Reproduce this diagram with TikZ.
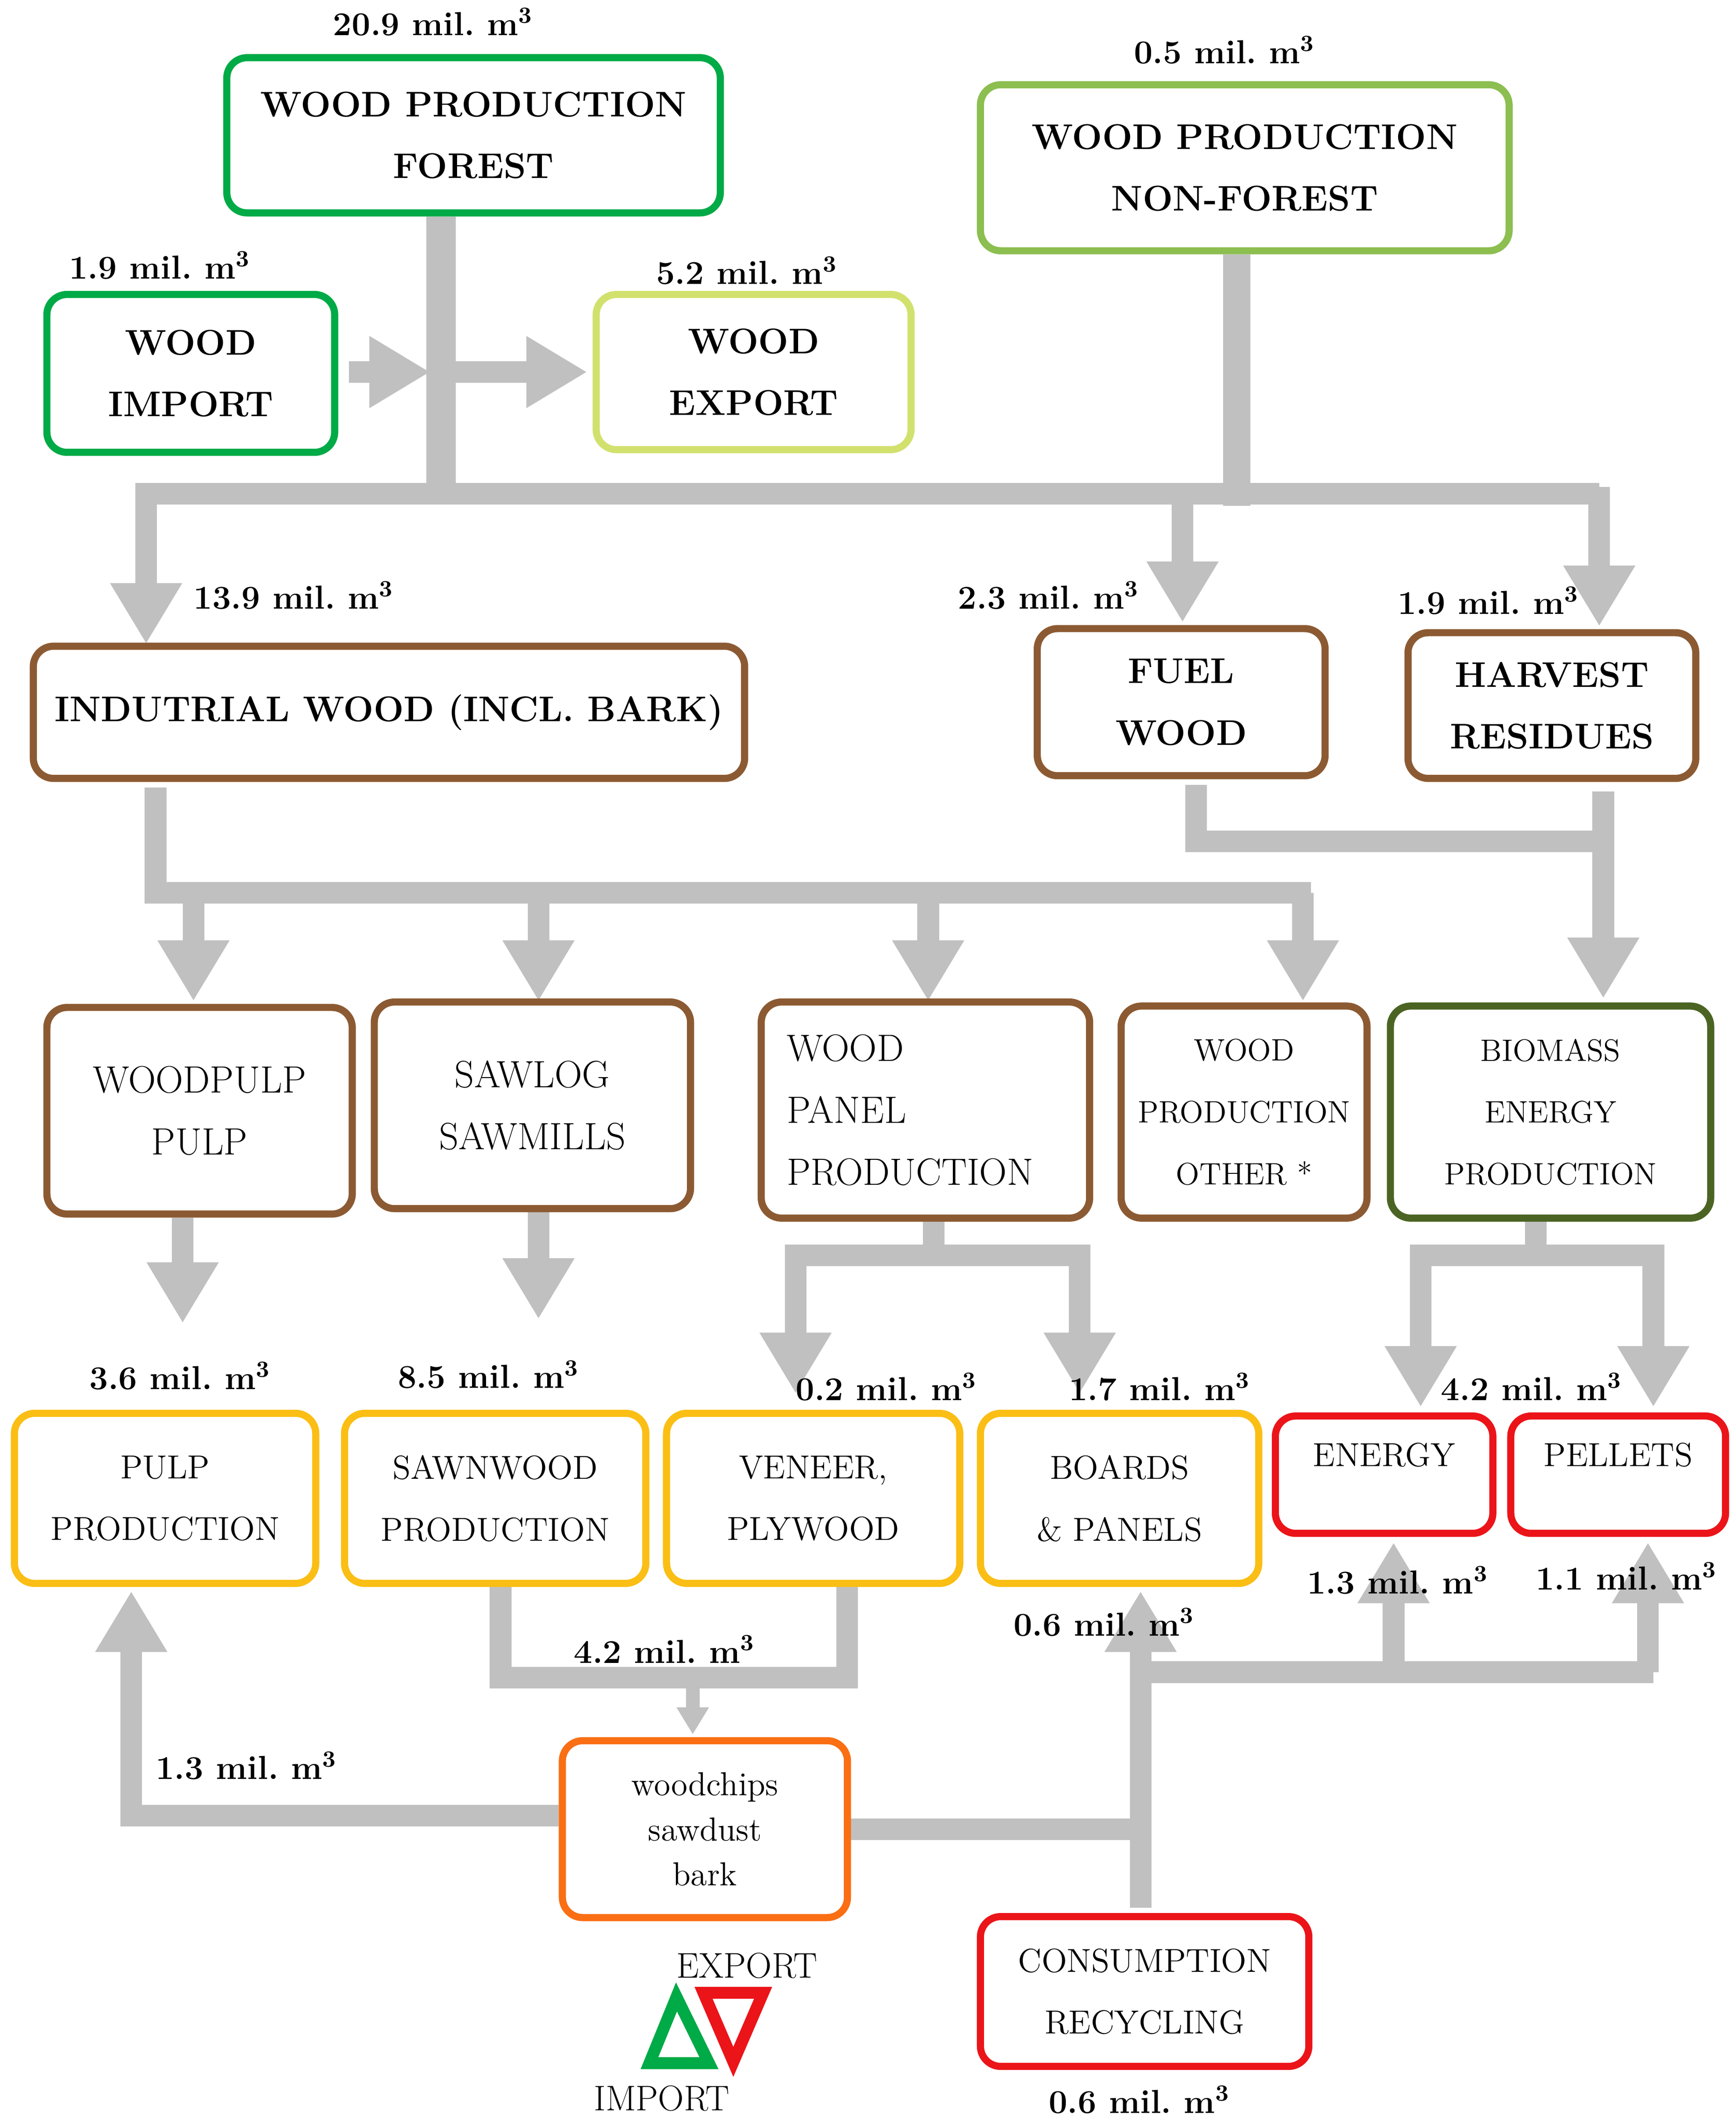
\documentclass[tikz,border=0pt]{standalone}
\usetikzlibrary{arrows.meta}
\definecolor{fg}{RGB}{192,192,192}
\definecolor{gA}{RGB}{0,170,70}
\definecolor{gB}{RGB}{140,190,80}
\definecolor{gC}{RGB}{210,225,110}
\definecolor{br}{RGB}{140,90,50}
\definecolor{dg}{RGB}{75,100,35}
\definecolor{yo}{RGB}{250,190,20}
\definecolor{rd}{RGB}{235,20,25}
\definecolor{og}{RGB}{250,110,20}
\newcommand\mybox[8]{%
 \pgfmathsetmacro\cx{(#2+#4)/2}\pgfmathsetmacro\cy{(#3+#5)/2}%
 \pgfmathsetmacro\ww{(#4-#2)*0.02}\pgfmathsetmacro\hh{(#5-#3)*0.02}%
 \node[box,#7,draw=#6,minimum width=\ww cm-3pt,minimum height=\hh cm-3pt] (#1) at (\cx,\cy) {#8};}
\begin{document}
\begin{tikzpicture}[x=0.02cm,y=-0.02cm,
 box/.style={rounded corners=0.3cm,line width=3pt,align=center,inner sep=0pt},
 B/.style={font=\fontsize{15}{26}\selectfont\bfseries},
 N/.style={font=\fontsize{16}{26}\selectfont},
 S/.style={font=\fontsize{13}{26}\selectfont},
 M/.style={font=\fontsize{14}{26}\selectfont},
 C/.style={font=\fontsize{14}{19}\selectfont},
 lab/.style={font=\fontsize{14}{18}\selectfont\bfseries},
 flow/.style={draw=fg,line width=0.32cm,line join=miter},
 thin/.style={draw=fg,line width=0.2cm,line join=miter},
 arr/.style={-{Triangle[width=1cm 0,length=0.9cm 0]}},
 sarr/.style={-{Triangle[width=0.45cm 0,length=0.4cm 0]}}]
\useasboundingbox[fill=white] (0,0) rectangle (1283,1567);
% flows
\draw[flow,line width=0.44cm] (326,160) -- (326,365);
\draw[flow,arr] (258,275) -- (318,275);
\draw[flow,arr] (336,275) -- (434,275);
\draw[flow,line width=0.4cm] (914,188) -- (914,374);
\draw[flow,arr] (1182,365) -- (108,365) -- (108,476);
\draw[flow,arr] (874,365) -- (874,460);
\draw[flow,arr] (1182,360) -- (1182,463);
\draw[flow] (115,582) -- (115,660) -- (969,660);
\foreach \x in {143,398,686}{\draw[flow,arr] (\x,660) -- (\x,740);}
\draw[flow,arr] (963,660) -- (963,740);
\draw[flow] (884,580) -- (884,622) -- (1185,622);
\draw[flow,arr] (1185,585) -- (1185,738);
\draw[flow,arr] (135,900) -- (135,978);
\draw[flow,arr] (398,896) -- (398,975);
\draw[flow] (690,903) -- (690,928);
\draw[flow,arr] (690,928) -- (588,928) -- (588,1030);
\draw[flow,arr] (690,928) -- (798,928) -- (798,1030);
\draw[flow] (1135,903) -- (1135,928);
\draw[flow,arr] (1135,928) -- (1050,928) -- (1050,1040);
\draw[flow,arr] (1135,928) -- (1222,928) -- (1222,1040);
\draw[flow] (370,1173) -- (370,1240) -- (626,1240) -- (626,1173);
\draw[thin,sarr] (512,1240) -- (512,1282);
\draw[flow,arr] (413,1342) -- (97,1342) -- (97,1176);
\draw[flow] (629,1352) -- (842,1352);
\draw[flow,arr] (843,1410) -- (843,1176);
\draw[flow] (843,1236) -- (1222,1236);
\draw[flow,arr] (1030,1236) -- (1030,1140);
\draw[flow,arr] (1218,1236) -- (1218,1140);
% boxes
\mybox{forest}{165}{40}{535}{160}{gA}{B}{WOOD PRODUCTION\\FOREST}
\mybox{nonforest}{722}{60}{1118}{188}{gB}{B}{WOOD PRODUCTION\\NON-FOREST}
\mybox{import}{32}{215}{250}{337}{gA}{B}{WOOD\\IMPORT}
\mybox{export}{438}{215}{676}{335}{gC}{B}{WOOD\\EXPORT}
\mybox{ind}{22}{475}{553}{578}{br}{B}{INDUTRIAL WOOD (INCL. BARK)}
\mybox{fuel}{764}{462}{982}{576}{br}{B}{FUEL\\WOOD}
\mybox{harv}{1038}{465}{1256}{578}{br}{B}{HARVEST\\RESIDUES}
\mybox{wpulp}{32}{742}{263}{900}{br}{N}{WOODPULP\\PULP}
\mybox{sawlog}{274}{738}{513}{896}{br}{N}{SAWLOG\\SAWMILLS}
\mybox{panel}{560}{738}{808}{903}{br}{N,align=left,text width=4.1cm}{WOOD\\PANEL\\PRODUCTION}
\mybox{other}{826}{741}{1013}{903}{br}{S}{WOOD\\PRODUCTION\\OTHER *}
\mybox{biomass}{1025}{741}{1267}{903}{dg}{S}{BIOMASS\\ENERGY\\PRODUCTION}
\mybox{pulp}{8}{1042}{236}{1173}{yo}{M}{PULP\\PRODUCTION}
\mybox{sawn}{252}{1042}{480}{1173}{yo}{M}{SAWNWOOD\\PRODUCTION}
\mybox{veneer}{490}{1042}{712}{1173}{yo}{M}{VENEER,\\PLYWOOD}
\mybox{boards}{722}{1042}{933}{1173}{yo}{M}{BOARDS\\\& PANELS}
\mybox{energy}{940}{1044}{1106}{1136}{rd}{M}{\raisebox{0.6cm}{ENERGY}}
\mybox{pellets}{1114}{1044}{1278}{1136}{rd}{M}{\raisebox{0.6cm}{PELLETS}}
\mybox{chips}{413}{1284}{629}{1420}{og}{C}{woodchips\\sawdust\\bark}
\mybox{cons}{722}{1414}{970}{1530}{rd}{M}{CONSUMPTION\\RECYCLING}
% labels
\newcommand\mm{ mil.\ m\textsuperscript{3}}
\node[lab] at (320,16) {20.9\mm};
\node[lab] at (905,37) {0.5\mm};
\node[lab] at (118,196) {1.9\mm};
\node[lab] at (552,200) {5.2\mm};
\node[lab] at (217,440) {13.9\mm};
\node[lab] at (775,440) {2.3\mm};
\node[lab] at (1100,444) {1.9\mm};
\node[lab] at (133,1017) {3.6\mm};
\node[lab] at (361,1016) {8.5\mm};
\node[lab] at (655,1025) {0.2\mm};
\node[lab] at (857,1025) {1.7\mm};
\node[lab] at (1132,1025) {4.2\mm};
\node[lab] at (1033,1168) {1.3\mm};
\node[lab] at (1202,1165) {1.1\mm};
\node[lab] at (816,1199) {0.6\mm};
\node[lab] at (491,1219) {4.2\mm};
\node[lab] at (182,1305) {1.3\mm};
\node[lab] at (842,1552) {0.6\mm};
% legend
\draw[gA,line width=5pt,line join=miter] (480,1525) -- (500,1476) -- (524,1525) -- cycle;
\draw[rd,line width=5pt,line join=miter] (520,1473) -- (564,1473) -- (542,1524) -- cycle;
\node[font=\fontsize{15}{18}\selectfont] at (552,1453) {EXPORT};
\node[font=\fontsize{15}{18}\selectfont] at (489,1551) {IMPORT};
\end{tikzpicture}
\end{document}
